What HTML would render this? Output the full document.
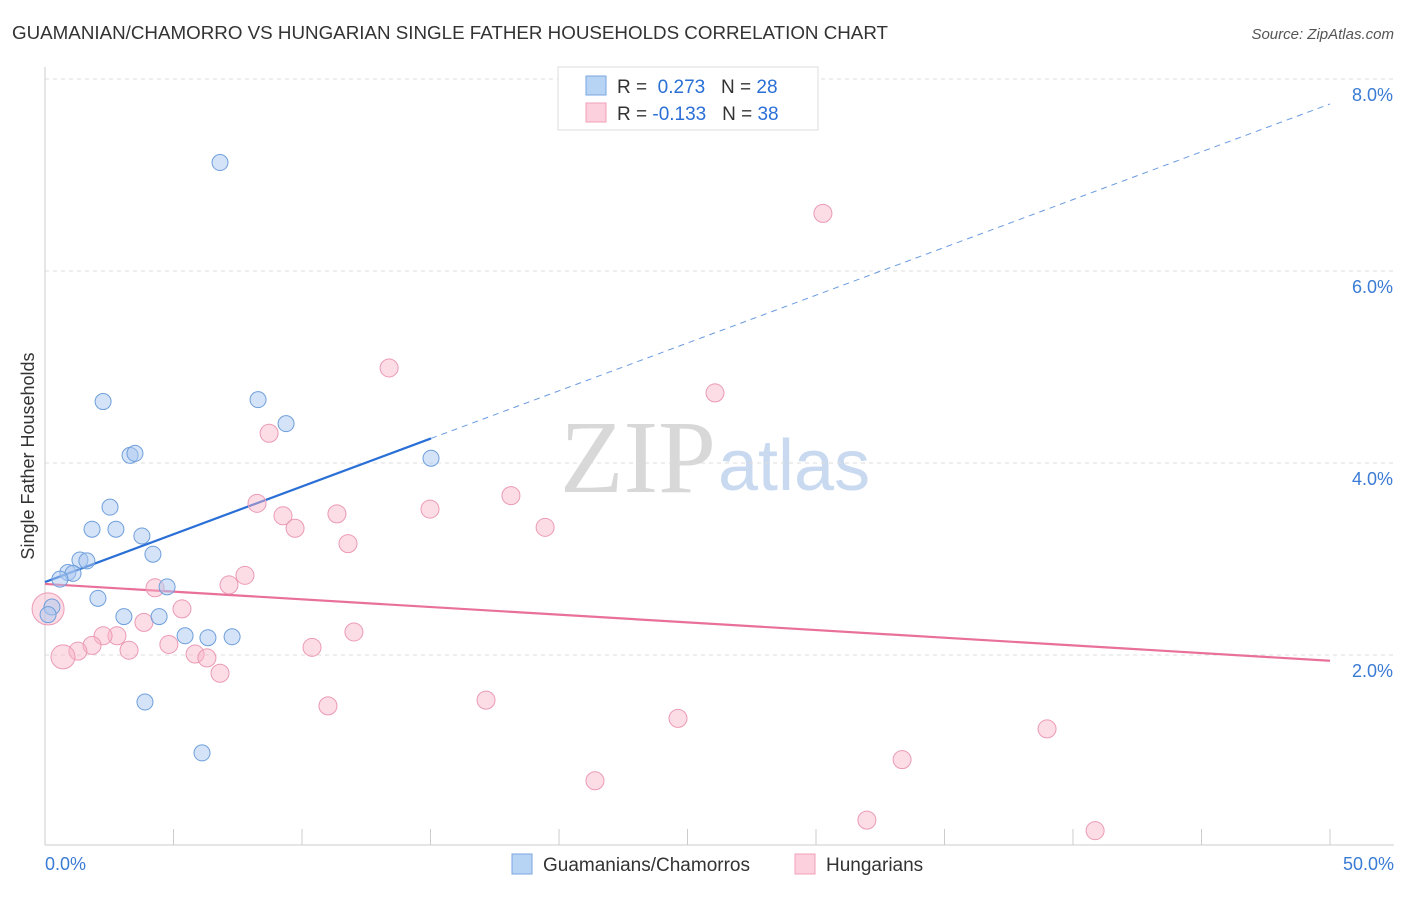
<!DOCTYPE html>
<html><head><meta charset="utf-8"><style>
body{margin:0;background:#fff;font-family:"Liberation Sans",sans-serif}
svg text{font-family:"Liberation Sans",sans-serif}
</style></head><body>
<svg id="chart" width="1406" height="892" xmlns="http://www.w3.org/2000/svg">
<text x="12" y="39" font-size="18.5" fill="#333" textLength="876" lengthAdjust="spacingAndGlyphs">GUAMANIAN/CHAMORRO VS HUNGARIAN SINGLE FATHER HOUSEHOLDS CORRELATION CHART</text>
<text x="1394" y="39" font-size="15" fill="#555" font-style="italic" text-anchor="end">Source: ZipAtlas.com</text>
<text x="716" y="492" font-size="104" text-anchor="end" fill="#d8d8d8" style="font-family:'Liberation Serif',serif">ZIP</text>
<text x="718" y="490" font-size="72" fill="#c8d9f0">atlas</text>
<text transform="translate(34,456) rotate(-90)" font-size="18" fill="#333" text-anchor="middle">Single Father Households</text>
<g id="grid"></g>
<g id="axes"></g>
<g id="marks"></g>
<g>
<rect x="558" y="67" width="260" height="63" fill="#fff" stroke="#ddd"/>
<rect x="586" y="76" width="20" height="19" fill="#b8d4f5" stroke="#7aa6e0"/>
<rect x="586" y="103" width="20" height="19" fill="#fcd0dc" stroke="#f0a0b8"/>
<text x="617" y="93" font-size="19" fill="#333">R = <tspan fill="#2a6fd6">&#160;0.273</tspan>&#160;&#160;&#160;N = <tspan fill="#2a6fd6">28</tspan></text>
<text x="617" y="120" font-size="19" fill="#333">R = <tspan fill="#2a6fd6">-0.133</tspan>&#160;&#160;&#160;N = <tspan fill="#2a6fd6">38</tspan></text>
</g>
<g>
<rect x="512" y="854" width="20" height="20" fill="#b8d4f5" stroke="#7aa6e0"/>
<text x="543" y="871" font-size="19" fill="#333">Guamanians/Chamorros</text>
<rect x="795" y="854" width="20" height="20" fill="#fcd0dc" stroke="#f0a0b8"/>
<text x="826" y="871" font-size="19" fill="#333">Hungarians</text>
</g>
</svg>
<script>
const blueX=[6.81,2.26,8.29,9.38,3.31,3.50,15.02,2.53,1.83,2.76,3.77,4.20,1.36,1.63,0.89,1.09,0.58,4.75,2.06,0.27,0.12,3.07,4.44,5.45,6.34,7.28,3.89,6.11];
const blueY=[7.13,4.64,4.66,4.41,4.08,4.10,4.05,3.54,3.31,3.31,3.24,3.05,2.99,2.98,2.86,2.85,2.79,2.71,2.59,2.50,2.42,2.40,2.40,2.20,2.18,2.19,1.51,0.98];
const pinkX=[30.27,13.39,26.07,8.72,18.13,8.25,14.98,9.26,11.36,9.73,19.46,11.79,7.78,7.16,4.28,5.33,3.85,2.80,2.26,1.83,4.82,3.27,1.28,0.70,5.84,6.30,10.39,12.02,6.81,17.16,11.01,24.63,38.99,33.35,21.40,31.98,40.86,0.12];
const pinkY=[6.60,4.99,4.73,4.31,3.66,3.58,3.52,3.45,3.47,3.32,3.33,3.16,2.83,2.73,2.70,2.48,2.34,2.20,2.20,2.10,2.11,2.05,2.04,1.98,2.01,1.97,2.08,2.24,1.81,1.53,1.47,1.34,1.23,0.91,0.69,0.28,0.17,2.48];
const pinkR=[9,9,9,9,9,9,9,9,9,9,9,9,9,9,9,9,9,9,9,9,9,9,9,12,9,9,9,9,9,9,9,9,9,9,9,9,9,16];
const yTicks=[2,4,6,8];
const yTickLabels=["2.0%","4.0%","6.0%","8.0%"];
const xTickLabels=["0.0%","50.0%"];
const blueTrend=[2.76,0.0996];
const pinkTrend=[2.74,-0.016];
const NS="http://www.w3.org/2000/svg";
const sx=v=>45+v*25.7, sy=v=>847-v*96;
function mk(tag,attrs,parent){const e=document.createElementNS(NS,tag);for(const k in attrs)e.setAttribute(k,attrs[k]);parent.appendChild(e);return e;}
const grid=document.getElementById('grid'),axes=document.getElementById('axes'),marks=document.getElementById('marks');
yTicks.forEach((t,i)=>{
 const l=mk('line',{x1:45,x2:1394,y1:sy(t),y2:sy(t),stroke:'#ddd','stroke-dasharray':'4,4'},grid);
 
 
 const tx=mk('text',{x:1393,y:sy(t)+22,'font-size':18,fill:'#3a7bd5','text-anchor':'end'},axes);
 tx.textContent=yTickLabels[i];
 
 
});
const top8=mk('line',{x1:45,x2:1394,y1:79,y2:79,stroke:'#ddd','stroke-dasharray':'4,4'},grid);


const ya=mk('line',{x1:45,x2:45,y1:67,y2:845,stroke:'#ccc'},axes);


const xa=mk('line',{x1:45,x2:1394,y1:845,y2:845,stroke:'#ccc'},axes);


for(let i=0;i<=10;i++){const x=sx(i*5);
 const t=mk('line',{x1:x,x2:x,y1:829,y2:845,stroke:'#ccc'},axes);
 
 }
[[0,'start',45],[50,'end',1394]].forEach((d,i)=>{
 const t=mk('text',{x:d[2],y:870,'font-size':18,fill:'#3a7bd5','text-anchor':d[1]},axes);
 t.textContent=xTickLabels[i];
 
 });
const bEnd=15.02;
const b1=mk('line',{x1:sx(0),y1:sy(blueTrend[0]),x2:sx(bEnd),y2:sy(blueTrend[0]+blueTrend[1]*bEnd),stroke:'#2a6fd6','stroke-width':2.2},marks);


const b2=mk('line',{x1:sx(bEnd),y1:sy(blueTrend[0]+blueTrend[1]*bEnd),x2:sx(50),y2:sy(blueTrend[0]+blueTrend[1]*50),stroke:'#6a9be0','stroke-width':1,'stroke-dasharray':'6,5'},marks);


const p1=mk('line',{x1:sx(0),y1:sy(pinkTrend[0]),x2:sx(50),y2:sy(pinkTrend[0]+pinkTrend[1]*50),stroke:'#e8709a','stroke-width':2.2},marks);


pinkX.forEach((x,i)=>{
 const c=mk('circle',{cx:sx(x),cy:sy(pinkY[i]),r:pinkR[i],fill:'rgba(248,180,200,0.45)',stroke:'#eb9ab5','stroke-width':1},marks);
 
 });
blueX.forEach((x,i)=>{
 const c=mk('circle',{cx:sx(x),cy:sy(blueY[i]),r:8,fill:'rgba(170,200,240,0.5)',stroke:'#6f9fdc','stroke-width':1},marks);
 
 });
</script>
</body></html>
